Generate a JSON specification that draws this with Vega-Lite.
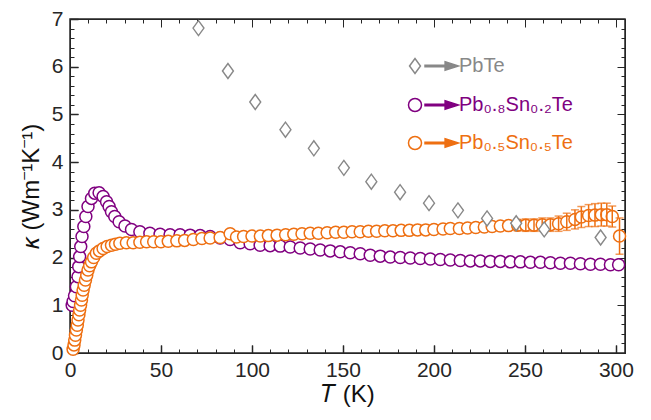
{
  "$schema": "https://vega.github.io/schema/vega-lite/v6.json",
  "width": 555,
  "height": 334,
  "autosize": {"type": "none"},
  "padding": {"left": 70, "top": 19, "right": 26, "bottom": 67},
  "config": {
    "view": {"stroke": "#262626", "strokeWidth": 1.5}
  },
  "datasets": {
    "pbte": [
      {"T": 70.6, "k": 6.81}, {"T": 86.8, "k": 5.91}, {"T": 101.8, "k": 5.26}, {"T": 118.4, "k": 4.68},
      {"T": 134.0, "k": 4.29}, {"T": 150.5, "k": 3.88}, {"T": 165.6, "k": 3.59}, {"T": 181.4, "k": 3.37},
      {"T": 197.3, "k": 3.14}, {"T": 213.2, "k": 2.99}, {"T": 229.2, "k": 2.82}, {"T": 245.2, "k": 2.72},
      {"T": 260.6, "k": 2.59}, {"T": 291.6, "k": 2.42}
    ],
    "p08": [
      {"T": 1.2, "k": 1.0}, {"T": 1.7, "k": 1.08}, {"T": 2.5, "k": 1.2}, {"T": 3.5, "k": 1.39},
      {"T": 4.4, "k": 1.6}, {"T": 4.8, "k": 1.81}, {"T": 5.3, "k": 2.02}, {"T": 5.9, "k": 2.23},
      {"T": 6.6, "k": 2.44}, {"T": 7.6, "k": 2.65}, {"T": 8.7, "k": 2.86}, {"T": 9.9, "k": 3.07},
      {"T": 11.8, "k": 3.24}, {"T": 13.6, "k": 3.35}, {"T": 16.0, "k": 3.36}, {"T": 18.2, "k": 3.28},
      {"T": 20.1, "k": 3.17}, {"T": 21.5, "k": 3.07}, {"T": 22.8, "k": 2.96}, {"T": 24.6, "k": 2.86},
      {"T": 27.0, "k": 2.75}, {"T": 30.2, "k": 2.66}, {"T": 33.8, "k": 2.59}, {"T": 38.4, "k": 2.54},
      {"T": 43.9, "k": 2.51}, {"T": 49.5, "k": 2.49}, {"T": 55, "k": 2.48}, {"T": 60.5, "k": 2.48},
      {"T": 66, "k": 2.47}, {"T": 71.5, "k": 2.46}, {"T": 77, "k": 2.44}, {"T": 82.5, "k": 2.41},
      {"T": 88, "k": 2.38}, {"T": 93.5, "k": 2.31}, {"T": 99, "k": 2.29}, {"T": 104.5, "k": 2.26},
      {"T": 110, "k": 2.25}, {"T": 115.5, "k": 2.24}, {"T": 121, "k": 2.22}, {"T": 126.5, "k": 2.2},
      {"T": 132, "k": 2.18}, {"T": 137.5, "k": 2.16}, {"T": 143, "k": 2.14}, {"T": 148.5, "k": 2.12},
      {"T": 154, "k": 2.1}, {"T": 159.5, "k": 2.08}, {"T": 165, "k": 2.05}, {"T": 170.5, "k": 2.03},
      {"T": 176, "k": 2.01}, {"T": 181.5, "k": 2.0}, {"T": 187, "k": 1.99}, {"T": 192.5, "k": 1.98},
      {"T": 198, "k": 1.97}, {"T": 203.5, "k": 1.96}, {"T": 209, "k": 1.95}, {"T": 214.5, "k": 1.94},
      {"T": 220, "k": 1.93}, {"T": 225.5, "k": 1.93}, {"T": 231, "k": 1.92}, {"T": 236.5, "k": 1.92},
      {"T": 242, "k": 1.91}, {"T": 247.5, "k": 1.91}, {"T": 253, "k": 1.9}, {"T": 258.5, "k": 1.9},
      {"T": 264, "k": 1.89}, {"T": 269.5, "k": 1.88}, {"T": 275, "k": 1.88}, {"T": 280.5, "k": 1.87},
      {"T": 286, "k": 1.86}, {"T": 291.5, "k": 1.86}, {"T": 297, "k": 1.85}, {"T": 301.5, "k": 1.85}
    ],
    "p05": [
      {"T": 1.7, "k": 0.08}, {"T": 2.2, "k": 0.17}, {"T": 2.6, "k": 0.27}, {"T": 3.0, "k": 0.37},
      {"T": 3.5, "k": 0.48}, {"T": 4.0, "k": 0.58}, {"T": 4.4, "k": 0.69}, {"T": 4.9, "k": 0.8},
      {"T": 5.3, "k": 0.9}, {"T": 5.8, "k": 1.0}, {"T": 6.3, "k": 1.11}, {"T": 6.7, "k": 1.21},
      {"T": 7.2, "k": 1.32}, {"T": 7.8, "k": 1.42}, {"T": 8.5, "k": 1.53}, {"T": 9.2, "k": 1.63},
      {"T": 9.9, "k": 1.74}, {"T": 10.8, "k": 1.83}, {"T": 11.8, "k": 1.91}, {"T": 13.0, "k": 2.0},
      {"T": 14.5, "k": 2.09}, {"T": 16.2, "k": 2.14}, {"T": 18.2, "k": 2.19}, {"T": 20.4, "k": 2.23},
      {"T": 22.8, "k": 2.26}, {"T": 25.0, "k": 2.28}, {"T": 27.4, "k": 2.3}, {"T": 31, "k": 2.31},
      {"T": 34.7, "k": 2.31}, {"T": 38.4, "k": 2.32}, {"T": 42.1, "k": 2.33}, {"T": 46, "k": 2.33},
      {"T": 50, "k": 2.33}, {"T": 54, "k": 2.34}, {"T": 58.7, "k": 2.35}, {"T": 63, "k": 2.36},
      {"T": 67.8, "k": 2.38}, {"T": 72.5, "k": 2.4}, {"T": 77, "k": 2.41}, {"T": 82.5, "k": 2.42},
      {"T": 88, "k": 2.5}, {"T": 91.5, "k": 2.43}, {"T": 95.4, "k": 2.44}, {"T": 100, "k": 2.45},
      {"T": 104.6, "k": 2.45}, {"T": 109, "k": 2.46}, {"T": 113.8, "k": 2.47}, {"T": 118.5, "k": 2.48},
      {"T": 123, "k": 2.49}, {"T": 127.5, "k": 2.5}, {"T": 132, "k": 2.51}, {"T": 136.5, "k": 2.51},
      {"T": 141.3, "k": 2.52}, {"T": 146, "k": 2.53}, {"T": 150.5, "k": 2.53}, {"T": 155, "k": 2.54},
      {"T": 159.5, "k": 2.54}, {"T": 164, "k": 2.55}, {"T": 168.5, "k": 2.55}, {"T": 173, "k": 2.56},
      {"T": 177.5, "k": 2.56}, {"T": 182, "k": 2.57}, {"T": 186.5, "k": 2.57}, {"T": 191, "k": 2.58},
      {"T": 195.5, "k": 2.58}, {"T": 200, "k": 2.59}, {"T": 205, "k": 2.6}, {"T": 209, "k": 2.61},
      {"T": 214, "k": 2.61}, {"T": 218.5, "k": 2.62}, {"T": 223, "k": 2.63}, {"T": 227.7, "k": 2.64},
      {"T": 232, "k": 2.65}, {"T": 236.5, "k": 2.66}, {"T": 241, "k": 2.67}, {"T": 246, "k": 2.68},
      {"T": 250.5, "k": 2.68}, {"T": 255, "k": 2.68}, {"T": 259.5, "k": 2.69}, {"T": 264, "k": 2.69},
      {"T": 268.5, "k": 2.71}, {"T": 273, "k": 2.75}, {"T": 277.5, "k": 2.8}, {"T": 281, "k": 2.85},
      {"T": 285, "k": 2.88}, {"T": 288.5, "k": 2.89}, {"T": 292, "k": 2.9}, {"T": 295, "k": 2.9},
      {"T": 298, "k": 2.86}, {"T": 302, "k": 2.45}
    ],
    "err": [
      {"T": 246, "lo": 2.56, "hi": 2.8}, {"T": 250.5, "lo": 2.55, "hi": 2.81}, {"T": 255, "lo": 2.55, "hi": 2.81},
      {"T": 259.5, "lo": 2.55, "hi": 2.83}, {"T": 264, "lo": 2.55, "hi": 2.83}, {"T": 268.5, "lo": 2.55, "hi": 2.87},
      {"T": 273, "lo": 2.57, "hi": 2.93}, {"T": 277.5, "lo": 2.6, "hi": 3.0}, {"T": 281, "lo": 2.63, "hi": 3.07},
      {"T": 285, "lo": 2.65, "hi": 3.11}, {"T": 288.5, "lo": 2.65, "hi": 3.13}, {"T": 292, "lo": 2.66, "hi": 3.14},
      {"T": 295, "lo": 2.66, "hi": 3.14}, {"T": 298, "lo": 2.64, "hi": 3.08}, {"T": 302, "lo": 2.07, "hi": 2.83}
    ]
  },
  "layer": [
    {
      "data": {"name": "p08"},
      "mark": {"type": "point", "shape": "circle", "size": 144, "filled": true, "fill": "white", "fillOpacity": 1, "opacity": 1, "strokeWidth": 1.5},
      "encoding": {
        "x": {"field": "T", "type": "quantitative", "scale": {"domain": [0, 305], "nice": false, "zero": false},
          "axis": {"orient": "bottom", "values": [0, 50, 100, 150, 200, 250, 300], "labels": false, "title": null, "tickSize": -8, "tickColor": "#262626", "domainColor": "#262626", "gridOpacity": 0}},
        "y": {"field": "k", "type": "quantitative", "scale": {"domain": [0, 7], "nice": false},
          "axis": {"orient": "left", "values": [0, 1, 2, 3, 4, 5, 6, 7], "labels": false, "title": null, "tickSize": -8, "tickColor": "#262626", "domainColor": "#262626", "gridOpacity": 0}},
        "stroke": {"datum": "Pb₀.₈Sn₀.₂Te", "type": "nominal",
          "scale": {"domain": ["PbTe", "Pb₀.₈Sn₀.₂Te", "Pb₀.₅Sn₀.₅Te"], "range": ["#888888", "#800080", "#EE6F11"]},
          "legend": {
            "orient": "none", "legendX": 335, "legendY": 37, "title": null, "padding": 0,
            "labelFont": "Liberation Sans", "labelFontSize": 20, "labelOffset": 34, "rowPadding": 18, "labelLimit": 0,
            "symbolSize": 196, "symbolStrokeWidth": 1.5,
            "symbolType": {"expr": "datum.index === 0 ? 'M-0.78,0L0,-1.07L0.78,0L0,1.07ZM1.43,-0.1L4.3,-0.1L4.3,0.1L1.43,0.1ZM4.3,-0.62L6.2,0L4.3,0.62ZM4.5,-0.38L5.6,0L4.5,0.38ZM4.65,-0.15L5.0,0L4.65,0.15Z' : 'M-0.93,0A0.93,0.93,0,1,1,0.93,0A0.93,0.93,0,1,1,-0.93,0ZM1.43,-0.1L4.3,-0.1L4.3,0.1L1.43,0.1ZM4.3,-0.62L6.2,0L4.3,0.62ZM4.5,-0.38L5.6,0L4.5,0.38ZM4.65,-0.15L5.0,0L4.65,0.15Z'"},
            "labelColor": {"expr": "datum.index === 0 ? '#888888' : datum.index === 1 ? '#800080' : '#EE6F11'"}
          }
        }
      }
    },
    {
      "data": {"name": "p05"},
      "mark": {"type": "point", "shape": "circle", "size": 144, "filled": true, "fill": "white", "fillOpacity": 1, "opacity": 1, "strokeWidth": 1.5},
      "encoding": {
        "x": {"field": "T", "type": "quantitative", "scale": {"domain": [0, 305], "nice": false, "zero": false},
          "axis": {"orient": "bottom", "values": [10, 20, 30, 40, 60, 70, 80, 90, 110, 120, 130, 140, 160, 170, 180, 190, 210, 220, 230, 240, 260, 270, 280, 290], "labels": false, "title": null, "tickSize": -4, "tickColor": "#262626", "domainColor": "#262626", "gridOpacity": 0}},
        "y": {"field": "k", "type": "quantitative", "scale": {"domain": [0, 7], "nice": false},
          "axis": {"orient": "left", "values": [0.2, 0.4, 0.6, 0.8, 1.2, 1.4, 1.6, 1.8, 2.2, 2.4, 2.6, 2.8, 3.2, 3.4, 3.6, 3.8, 4.2, 4.4, 4.6, 4.8, 5.2, 5.4, 5.6, 5.8, 6.2, 6.4, 6.6, 6.8], "labels": false, "title": null, "tickSize": -4, "tickColor": "#262626", "domainColor": "#262626", "gridOpacity": 0}},
        "stroke": {"datum": "Pb₀.₅Sn₀.₅Te", "type": "nominal",
          "scale": {"domain": ["PbTe", "Pb₀.₈Sn₀.₂Te", "Pb₀.₅Sn₀.₅Te"], "range": ["#888888", "#800080", "#EE6F11"]}}
      }
    },
    {
      "data": {"name": "err"},
      "mark": {"type": "rule", "color": "#EE6F11", "strokeWidth": 1.5},
      "encoding": {
        "x": {"field": "T", "type": "quantitative", "scale": {"domain": [0, 305], "nice": false, "zero": false},
          "axis": {"orient": "top", "values": [0, 50, 100, 150, 200, 250, 300], "labels": false, "title": null, "tickSize": -8, "tickColor": "#262626", "domainColor": "#262626", "gridOpacity": 0}},
        "y": {"field": "lo", "type": "quantitative", "scale": {"domain": [0, 7], "nice": false},
          "axis": {"orient": "right", "values": [0, 1, 2, 3, 4, 5, 6, 7], "labels": false, "title": null, "tickSize": -8, "tickColor": "#262626", "domainColor": "#262626", "gridOpacity": 0}},
        "y2": {"field": "hi"}
      }
    },
    {
      "data": {"name": "err"},
      "mark": {"type": "tick", "orient": "horizontal", "color": "#EE6F11", "size": 8, "thickness": 1.5},
      "encoding": {
        "x": {"field": "T", "type": "quantitative", "scale": {"domain": [0, 305], "nice": false, "zero": false},
          "axis": {"orient": "top", "values": [10, 20, 30, 40, 60, 70, 80, 90, 110, 120, 130, 140, 160, 170, 180, 190, 210, 220, 230, 240, 260, 270, 280, 290], "labels": false, "title": null, "tickSize": -4, "tickColor": "#262626", "domainColor": "#262626", "gridOpacity": 0}},
        "y": {"field": "lo", "type": "quantitative", "scale": {"domain": [0, 7], "nice": false},
          "axis": {"orient": "right", "values": [0.2, 0.4, 0.6, 0.8, 1.2, 1.4, 1.6, 1.8, 2.2, 2.4, 2.6, 2.8, 3.2, 3.4, 3.6, 3.8, 4.2, 4.4, 4.6, 4.8, 5.2, 5.4, 5.6, 5.8, 6.2, 6.4, 6.6, 6.8], "labels": false, "title": null, "tickSize": -4, "tickColor": "#262626", "domainColor": "#262626", "gridOpacity": 0}}
      }
    },
    {
      "data": {"name": "err"},
      "mark": {"type": "tick", "orient": "horizontal", "color": "#EE6F11", "size": 8, "thickness": 1.5},
      "encoding": {
        "x": {"field": "T", "type": "quantitative", "scale": {"domain": [0, 305], "nice": false, "zero": false}, "axis": null},
        "y": {"field": "hi", "type": "quantitative", "scale": {"domain": [0, 7], "nice": false}, "axis": null}
      }
    },
    {
      "data": {"name": "pbte"},
      "mark": {"type": "point", "shape": "M-0.73,0L0,-1L0.73,0L0,1Z", "size": 225, "filled": true, "fill": "white", "fillOpacity": 1, "opacity": 1, "strokeWidth": 1.4},
      "encoding": {
        "x": {"field": "T", "type": "quantitative", "scale": {"domain": [0, 305], "nice": false, "zero": false},
          "axis": {"orient": "bottom", "values": [0, 50, 100, 150, 200, 250, 300], "tickSize": -8, "tickColor": "#262626", "tickWidth": 1.5, "gridOpacity": 0, "domainColor": "#262626", "labelPadding": 14, "labelFlush": false, "labelOverlap": false, "labelFont": "Liberation Sans", "labelFontSize": 21, "labelColor": "#262626", "title": "𝑇 (K)", "titlePadding": 2, "titleFont": "Liberation Sans", "titleFontSize": 24, "titleFontWeight": "normal", "titleColor": "#111111"}},
        "y": {"field": "k", "type": "quantitative", "scale": {"domain": [0, 7], "nice": false},
          "axis": {"orient": "left", "values": [0, 1, 2, 3, 4, 5, 6, 7], "tickSize": -8, "tickColor": "#262626", "tickWidth": 1.5, "gridOpacity": 0, "domainColor": "#262626", "labelPadding": 15, "labelOverlap": false, "labelFont": "Liberation Sans", "labelFontSize": 21, "labelColor": "#262626", "title": "𝜅 (Wm⁻¹K⁻¹)", "titlePadding": 8, "titleFont": "Liberation Sans", "titleFontSize": 24, "titleFontWeight": "normal", "titleColor": "#111111"}},
        "stroke": {"datum": "PbTe", "type": "nominal",
          "scale": {"domain": ["PbTe", "Pb₀.₈Sn₀.₂Te", "Pb₀.₅Sn₀.₅Te"], "range": ["#888888", "#800080", "#EE6F11"]}}
      }
    }
  ],
  "resolve": {"axis": {"x": "independent", "y": "independent"}}
}
